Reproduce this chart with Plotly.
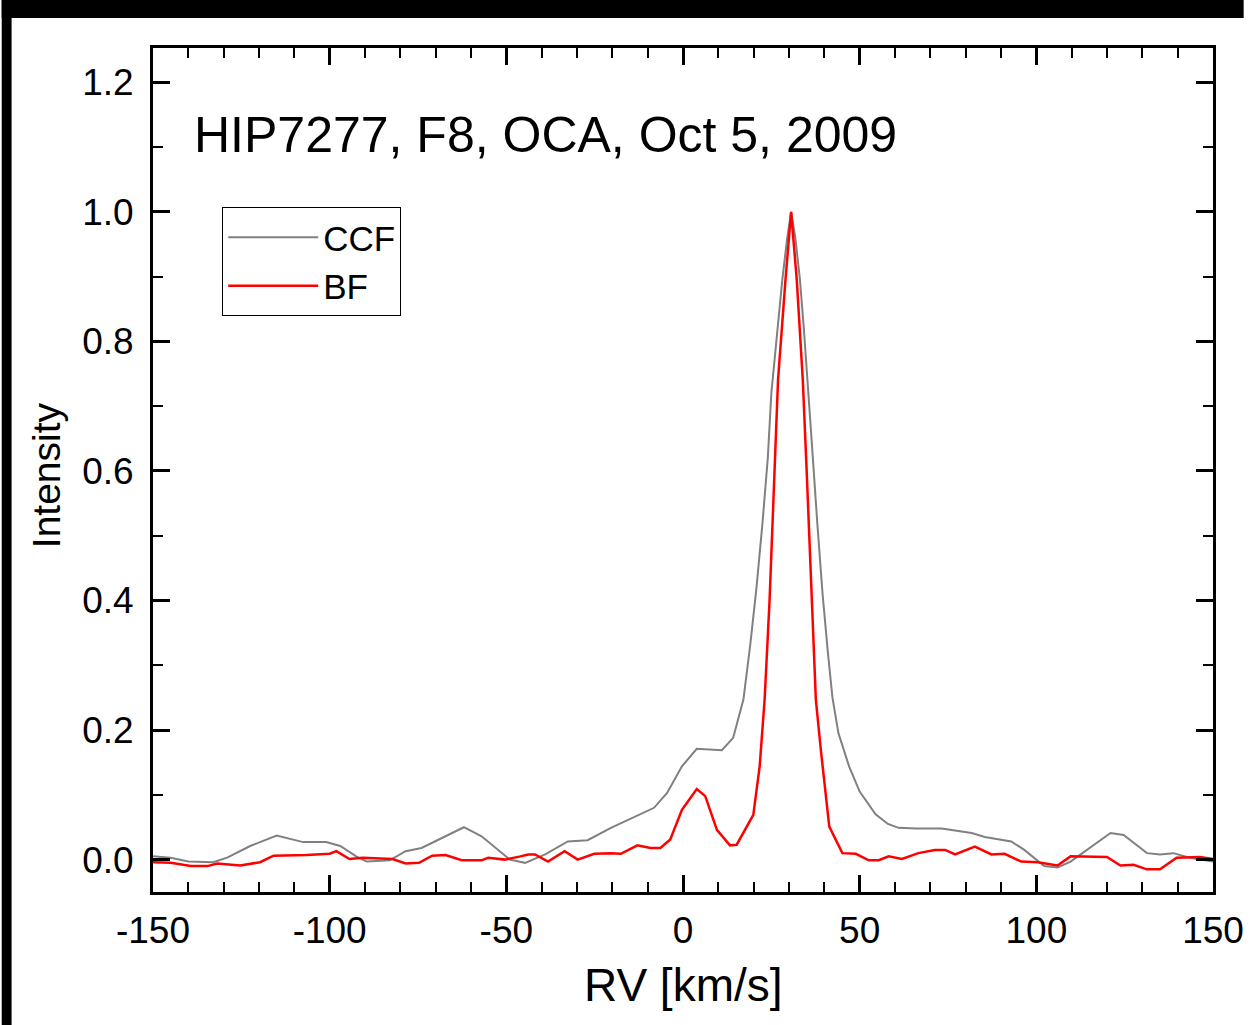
import plotly.graph_objects as go

# ---- data ----
ccf_rv = [-150, -145, -140, -133, -129, -122.5, -115, -107.5, -101, -97, -92.5, -89.5, -83,
          -78.5, -74, -69, -62, -57, -52, -49, -44.7, -39, -32.6, -27, -20.4, -12, -8.2, -4.5,
          -0.3, 3.9, 11, 14.2, 17.1, 19, 20.8, 22.5, 24, 25, 26.5, 28.1, 29.5, 30.6, 31.8, 33.1,
          34.2, 35.3, 36.5, 38, 39.5, 41, 42.3, 44, 46.1, 47, 50, 54.5, 58, 61, 66, 73.2, 81.7,
          85.4, 92.9, 96.6, 102.2, 106, 109.7, 116.3, 121, 124.7, 131.3, 135, 138.8, 143.4, 150]
ccf_val = [0.005, 0.003, -0.003, -0.004, 0.003, 0.021, 0.037, 0.027, 0.027, 0.021, 0.005, -0.003, -0.001,
           0.013, 0.018, 0.031, 0.050, 0.036, 0.013, 0.000, -0.005, 0.008, 0.028, 0.030, 0.049, 0.071, 0.080, 0.103,
           0.144, 0.171, 0.169, 0.188, 0.247, 0.33, 0.42, 0.52, 0.62, 0.72, 0.81, 0.895, 0.96, 1.0, 0.96, 0.895,
           0.82, 0.74, 0.64, 0.52, 0.41, 0.32, 0.25, 0.195, 0.159, 0.144, 0.105, 0.07, 0.055, 0.049, 0.048, 0.048, 0.041,
           0.035, 0.028, 0.015, -0.010, -0.012, -0.003, 0.023, 0.041, 0.038, 0.010, 0.008, 0.010, 0.003, -0.003]

bf_rv = [-150, -145, -139.3, -134.6, -131.8, -125.3, -119.7, -115.9, -106.6, -100, -98.1, -94.4, -90.6,
         -82.2, -78.5, -74.7, -71, -67.2, -62.6, -56.9, -55.1, -50.4, -46, -43.8, -41.9, -38.2, -33.5,
         -29.8, -25.1, -20.4, -17.6, -12.9, -9.2, -6.4, -3.6, -0.3, 3.9, 6.3, 9.6, 13.3, 15.2, 19.9,
         21.7, 23.1, 24.5, 25.8, 26.9, 29, 30.6, 32.2, 33.9, 35.0, 36.5, 37.6, 39, 41.4, 45.1, 48.9,
         52.6, 55.4, 58.2, 62, 66.6, 71.3, 74.2, 77, 82.6, 87.3, 91, 95.7, 100.4, 106, 109.7, 120,
         123.8, 127.5, 131.3, 135, 139.7, 146.3, 150]
bf_val = [-0.004, -0.005, -0.010, -0.010, -0.006, -0.009, -0.004, 0.006, 0.007, 0.009, 0.013, 0.001, 0.003,
          0.001, -0.006, -0.005, 0.006, 0.007, -0.001, -0.001, 0.003, 0.0, 0.005, 0.008, 0.008, -0.003, 0.013,
          0.0, 0.009, 0.010, 0.009, 0.022, 0.018, 0.018, 0.031, 0.077, 0.109, 0.098, 0.046, 0.022, 0.023, 0.069,
          0.144, 0.247, 0.40, 0.60, 0.741, 0.895, 1.0, 0.895, 0.741, 0.60, 0.40, 0.247, 0.17, 0.051, 0.010, 0.009,
          -0.001, -0.001, 0.005, 0.001, 0.010, 0.015, 0.015, 0.008, 0.020, 0.008, 0.009, -0.003, -0.004, -0.009, 0.005, 0.004,
          -0.009, -0.008, -0.015, -0.015, 0.003, 0.004, 0.001]

x_ticks = [-150, -100, -50, 0, 50, 100, 150]
y_ticks = [0.0, 0.2, 0.4, 0.6, 0.8, 1.0, 1.2]
title_text = "HIP7277, F8, OCA, Oct 5, 2009"

FONT = "Liberation Sans, Arial, sans-serif"

fig = go.Figure()
fig.add_trace(go.Scatter(x=ccf_rv, y=ccf_val, mode="lines", name="CCF",
                         line=dict(color="#808080", width=2)))
fig.add_trace(go.Scatter(x=bf_rv, y=bf_val, mode="lines", name="BF",
                         line=dict(color="#ff0000", width=2.5)))

W, H = 1256, 1025
L, R, T, B = 153, 31, 48, 133
pw, ph = W - L - R, H - T - B

def px(xp):
    return (xp - L) / pw

def py(yp):
    return (H - B - yp) / ph

fig.update_layout(
    width=W, height=H,
    margin=dict(l=L, r=R, t=T, b=B),
    paper_bgcolor="white", plot_bgcolor="white",
    font=dict(family=FONT, color="black", size=36),
    showlegend=True,
    legend=dict(x=px(223), y=py(207), xanchor="left", yanchor="top",
                bordercolor="black", borderwidth=1, bgcolor="white",
                font=dict(size=35, family=FONT), itemwidth=90,
                tracegroupgap=0),
    xaxis=dict(range=[-150, 150], tickvals=x_ticks, ticktext=[str(v) for v in x_ticks],
               ticks="inside", ticklen=17, tickwidth=2.5, tickcolor="black",
               showline=True, linecolor="black", linewidth=3, mirror="ticks",
               showgrid=False, zeroline=False, ticklabelstandoff=4,
               tickfont=dict(size=37, family=FONT),
               minor=dict(ticks="inside", ticklen=10, tickwidth=2, dtick=10, tick0=0,
                          tickcolor="black", showgrid=False)),
    yaxis=dict(range=[-0.05, 1.253], tickvals=y_ticks, ticktext=["%.1f" % v for v in y_ticks],
               ticks="inside", ticklen=17, tickwidth=2.5, tickcolor="black",
               showline=True, linecolor="black", linewidth=3, mirror="ticks",
               showgrid=False, zeroline=False, ticklabelstandoff=9,
               tickfont=dict(size=37, family=FONT),
               minor=dict(ticks="inside", ticklen=10, tickwidth=2, dtick=0.1, tick0=0,
                          tickcolor="black", showgrid=False)),
)

fig.add_annotation(text=title_text, xref="paper", yref="paper", x=px(192), y=py(135),
                   xanchor="left", yanchor="middle", showarrow=False,
                   font=dict(size=50, family=FONT, color="black"))
fig.add_annotation(text="RV [km/s]", xref="paper", yref="paper", x=px(690), y=py(985),
                   xanchor="center", yanchor="middle", showarrow=False,
                   font=dict(size=46, family=FONT, color="black"))
fig.add_annotation(text="Intensity", xref="paper", yref="paper", x=px(45), y=py(475),
                   xanchor="center", yanchor="middle", showarrow=False, textangle=-90,
                   font=dict(size=39, family=FONT, color="black"))

# black border bands (top and left)
fig.add_shape(type="rect", xref="paper", yref="paper", x0=px(0), x1=px(W), y0=py(18), y1=py(0),
              fillcolor="black", line=dict(width=0), layer="above")
fig.add_shape(type="rect", xref="paper", yref="paper", x0=px(0), x1=px(10), y0=py(H), y1=py(0),
              fillcolor="black", line=dict(width=0), layer="above")

fig.write_html("out.html", config={"displayModeBar": False},
               post_script="document.body.style.margin='0';document.body.style.overflow='hidden';")
